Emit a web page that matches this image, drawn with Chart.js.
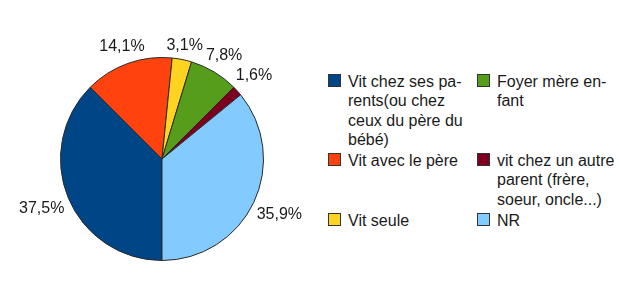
<!DOCTYPE html>
<html lang="fr">
<head>
<meta charset="utf-8">
<script src="https://cdn.jsdelivr.net/npm/chart.js@4/dist/chart.umd.min.js"></script>
<style>
  html, body { margin: 0; padding: 0; background: #fff; overflow: hidden; }
  body { width: 619px; height: 291px; position: relative; font-family: "Liberation Sans", Arial, sans-serif; }
  #box { position: absolute; left: 0; top: 0; width: 324px; height: 291px; }
  #legend {
    position: absolute; left: 328px; top: 72px;
    display: grid; grid-auto-flow: column;
    grid-template-rows: repeat(3, auto);
    grid-template-columns: 149px 130px;
    row-gap: 2px;
    font-size: 16px; line-height: 19.3px; color: #1a1a1a;
  }
  #legend .item { display: flex; align-items: flex-start; white-space: nowrap; }
  #legend .sw { width: 11px; height: 11px; border: 1px solid #333; margin-top: 2px; margin-right: 7px; flex: none; }
</style>
</head>
<body>
<div id="box"><canvas id="chartContainer"></canvas></div>
<div id="legend"></div>
<script>
// categories (split in lines the way the legend shows them)
var categories = [
  ["Vit chez ses pa-", "rents(ou chez", "ceux du père du", "bébé)"],
  ["Vit avec le père"],
  ["Vit seule"],
  ["Foyer mère en-", "fant"],
  ["vit chez un autre", "parent (frère,", "soeur, oncle...)"],
  ["NR"]
];
var values = [37.5, 14.1, 3.1, 7.8, 1.6, 35.9];
var colors = ["#004586", "#ff420e", "#ffd320", "#579d1c", "#7e0021", "#83caff"];

var legend = document.getElementById("legend");
for (var i in categories) {
  var item = document.createElement("div");
  item.className = "item";
  var sw = document.createElement("span");
  sw.className = "sw";
  sw.style.background = colors[i];
  var txt = document.createElement("span");
  txt.innerHTML = categories[i].join("<br>");
  item.appendChild(sw);
  item.appendChild(txt);
  legend.appendChild(item);
}

// percent labels outside the slices
var outsideLabels = {
  id: "outsideLabels",
  afterDatasetsDraw: function(chart) {
    var c = chart.ctx;
    var meta = chart.getDatasetMeta(0);
    c.save();
    c.font = "16px 'Liberation Sans', Arial, sans-serif";
    c.fillStyle = "#1a1a1a";
    c.textAlign = "center";
    c.textBaseline = "middle";
    meta.data.forEach(function(arc, k) {
      var p = arc.getProps(["x", "y", "startAngle", "endAngle", "outerRadius"], true);
      var mid = (p.startAngle + p.endAngle) / 2;
      var cos = Math.cos(mid), sin = Math.sin(mid);
      var label = values[k].toFixed(1).replace(".", ",") + "%";
      var w = c.measureText(label).width, h = 9;
      var d = p.outerRadius + 6 + Math.abs(cos) * w / 2 + Math.abs(sin) * h / 2;
      c.fillText(label, p.x + cos * d, p.y + sin * d);
    });
    c.restore();
  }
};

const ctx = document.getElementById("chartContainer");

var chart = new Chart(ctx, {
  type: "pie",
  data: {
    labels: categories,
    datasets: [{
      data: values,
      backgroundColor: colors,
      borderColor: "#2a2a2a",
      borderWidth: 1
    }]
  },
  options: {
    responsive: true,
    maintainAspectRatio: false,
    animation: false,
    rotation: 180,
    layout: { padding: { left: 60, right: 60, top: 57, bottom: 30 } },
    plugins: {
      legend: { display: false },
      tooltip: { enabled: false }
    }
  },
  plugins: [outsideLabels]
});
</script>
</body>
</html>
